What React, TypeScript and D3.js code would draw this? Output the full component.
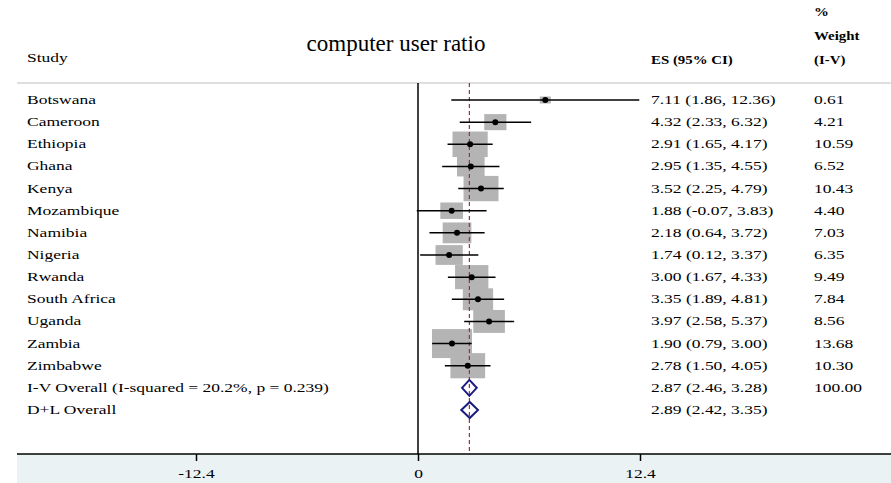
import { useEffect, useRef } from 'react';
import * as d3 from 'd3';

const studies = ['Botswana', 'Cameroon', 'Ethiopia', 'Ghana', 'Kenya', 'Mozambique', 'Namibia', 'Nigeria', 'Rwanda', 'South Africa', 'Uganda', 'Zambia', 'Zimbabwe'];
const es = [7.11, 4.32, 2.91, 2.95, 3.52, 1.88, 2.18, 1.74, 3.0, 3.35, 3.97, 1.9, 2.78];
const lower = [1.86, 2.33, 1.65, 1.35, 2.25, -0.07, 0.64, 0.12, 1.67, 1.89, 2.58, 0.79, 1.5];
const upper = [12.36, 6.32, 4.17, 4.55, 4.79, 3.83, 3.72, 3.37, 4.33, 4.81, 5.37, 3.0, 4.05];
const weights = [0.61, 4.21, 10.59, 6.52, 10.43, 4.4, 7.03, 6.35, 9.49, 7.84, 8.56, 13.68, 10.3];

const overallLabels = ['I-V Overall  (I-squared = 20.2%, p = 0.239)', 'D+L Overall'];
const overallEs = [2.87, 2.89];
const overallLower = [2.46, 2.42];
const overallUpper = [3.28, 3.35];
const overallWeight = ['100.00', ''];

const xTicks = [-12.4, 0, 12.4];

const W = 891;
const H = 483;
const FONT = '"Liberation Serif", "Times New Roman", serif';
// the original text is stretched sideways
const STRETCH = 1.4;

export default function App() {
  const svgRef = useRef<SVGSVGElement>(null);

  useEffect(() => {
    if (!svgRef.current) return;
    const svg = d3.select(svgRef.current);
    svg.selectAll('*').remove();

    const x = d3.scaleLinear().domain([-12.4, 12.4]).range([196, 640]);
    const y = d3.scaleLinear().domain([0, 14]).range([100, 410]);
    const boxW = d3.scaleSqrt().domain([0, 13.68]).range([0, 40]);
    const boxH = d3.scaleSqrt().domain([0, 13.68]).range([0, 29]);

    const axisY = 454;
    const topY = 83;
    const esX = 651;
    const wX = 814;
    const labelX = 27;

    // axis band
    svg.append('rect')
      .attr('x', 17).attr('y', axisY).attr('width', W - 17).attr('height', H - axisY)
      .attr('fill', '#eaf2f3');

    // header separator
    svg.append('line')
      .attr('x1', 17).attr('x2', W).attr('y1', topY).attr('y2', topY)
      .attr('stroke', '#d4d4d4').attr('stroke-width', 1.5);

    const txt = (tx: number, ty: number, s: string, size = 12.5, bold = false, sx = STRETCH) =>
      svg.append('text')
        .attr('transform', `translate(${tx},${ty}) scale(${sx},1)`)
        .attr('font-family', FONT)
        .attr('font-size', size)
        .attr('font-weight', bold ? 'bold' : 'normal')
        .attr('fill', '#000')
        .text(s);

    // headers
    txt(labelX, 62, 'Study');
    svg.append('text')
      .attr('x', 396).attr('y', 51)
      .attr('text-anchor', 'middle')
      .attr('font-family', FONT)
      .attr('font-size', 23)
      .text('computer user ratio');
    txt(esX, 64, 'ES (95% CI)', 12, true, 1.24);
    txt(wX, 16, '%', 12, true, 1.24);
    txt(wX, 40, 'Weight', 12, true, 1.24);
    txt(wX, 64, '(I-V)', 12, true, 1.24);

    // zero line
    svg.append('line')
      .attr('x1', x(0)).attr('x2', x(0)).attr('y1', topY).attr('y2', axisY)
      .attr('stroke', '#000').attr('stroke-width', 1.5);

    // weight boxes
    svg.selectAll('.box')
      .data(studies)
      .enter()
      .append('rect')
      .attr('class', 'box')
      .attr('x', (_, i) => x(es[i]) - Math.max(boxW(weights[i]), 11) / 2)
      .attr('y', (_, i) => y(i) - Math.max(boxH(weights[i]), 7) / 2)
      .attr('width', (_, i) => Math.max(boxW(weights[i]), 11))
      .attr('height', (_, i) => Math.max(boxH(weights[i]), 7))
      .attr('fill', '#b4b4b4');

    // overall effect line
    svg.append('line')
      .attr('x1', x(overallEs[0])).attr('x2', x(overallEs[0]))
      .attr('y1', topY).attr('y2', axisY)
      .attr('stroke', '#a0303a').attr('stroke-width', 1.2)
      .attr('stroke-dasharray', '4,3');

    // CI lines
    svg.selectAll('.ci')
      .data(studies)
      .enter()
      .append('line')
      .attr('class', 'ci')
      .attr('x1', (_, i) => x(lower[i]))
      .attr('x2', (_, i) => x(upper[i]))
      .attr('y1', (_, i) => y(i))
      .attr('y2', (_, i) => y(i))
      .attr('stroke', '#000').attr('stroke-width', 1.5);

    svg.selectAll('.dot')
      .data(studies)
      .enter()
      .append('circle')
      .attr('class', 'dot')
      .attr('cx', (_, i) => x(es[i]))
      .attr('cy', (_, i) => y(i))
      .attr('r', 3)
      .attr('fill', '#000');

    // diamonds
    overallEs.forEach((v, k) => {
      const cy = y(studies.length + k);
      const pts = [
        [x(overallLower[k]), cy],
        [x(v), cy - 8],
        [x(overallUpper[k]), cy],
        [x(v), cy + 8],
      ];
      svg.append('path')
        .attr('d', d3.line()(pts as [number, number][]) + 'Z')
        .attr('fill', 'none')
        .attr('stroke', '#1a1a80')
        .attr('stroke-width', 2);
    });

    // row labels + values
    studies.forEach((s, i) => {
      const ty = y(i) + 4;
      txt(labelX, ty, s);
      txt(esX, ty, `${es[i].toFixed(2)} (${lower[i].toFixed(2)}, ${upper[i].toFixed(2)})`);
      txt(wX, ty, weights[i].toFixed(2));
    });
    overallLabels.forEach((s, k) => {
      const ty = y(studies.length + k) + 4;
      txt(labelX, ty, s);
      txt(esX, ty, `${overallEs[k].toFixed(2)} (${overallLower[k].toFixed(2)}, ${overallUpper[k].toFixed(2)})`);
      if (overallWeight[k]) txt(wX, ty, overallWeight[k]);
    });

    // x axis
    const axis = d3.axisBottom(x).tickValues(xTicks).tickSize(7).tickFormat(d => String(d));
    const g = svg.append('g').attr('transform', `translate(0, ${axisY})`).call(axis);
    g.select('.domain').remove();
    g.selectAll('.tick line').attr('stroke', '#000').attr('stroke-width', 1.5);
    g.selectAll('.tick text')
      .attr('font-family', FONT)
      .attr('font-size', 12.5)
      .attr('fill', '#000')
      .attr('y', 0)
      .attr('dy', 0)
      .attr('transform', `translate(0,24) scale(${STRETCH},1)`);
    svg.append('line')
      .attr('x1', 17).attr('x2', W).attr('y1', axisY).attr('y2', axisY)
      .attr('stroke', '#000').attr('stroke-width', 1.5);
  }, []);

  return (
    <svg
      ref={svgRef}
      width={W}
      height={H}
      style={{ position: 'fixed', left: 0, top: 0, background: '#fff' }}
    />
  );
}
